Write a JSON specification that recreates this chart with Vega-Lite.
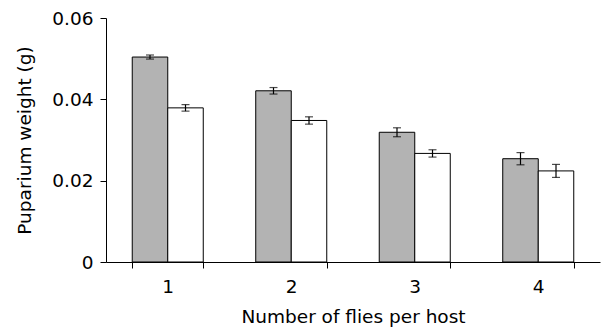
{
  "$schema": "https://vega.github.io/schema/vega-lite/v6.json",
  "width": 494,
  "height": 244,
  "autosize": {"type": "none"},
  "padding": {"left": 106, "top": 18, "right": 5, "bottom": 66},
  "background": "white",
  "config": {
    "view": {"stroke": null},
    "font": "DejaVu Sans",
    "axis": {
      "grid": false,
      "domainColor": "black",
      "tickColor": "black",
      "labelColor": "black",
      "titleColor": "black",
      "labelFont": "DejaVu Sans",
      "titleFont": "DejaVu Sans",
      "labelFontSize": 18.5,
      "titleFontSize": 18.5,
      "titleFontWeight": "normal",
      "tickSize": 6,
      "domainWidth": 1,
      "tickWidth": 1
    }
  },
  "data": {
    "values": [
      {"flies": "1", "group": "A", "value": 0.0504, "lo": 0.0499, "hi": 0.0509},
      {"flies": "1", "group": "B", "value": 0.0379, "lo": 0.0371, "hi": 0.0387},
      {"flies": "2", "group": "A", "value": 0.0421, "lo": 0.0413, "hi": 0.0429},
      {"flies": "2", "group": "B", "value": 0.0348, "lo": 0.0339, "hi": 0.0357},
      {"flies": "3", "group": "A", "value": 0.0319, "lo": 0.0308, "hi": 0.0330},
      {"flies": "3", "group": "B", "value": 0.0267, "lo": 0.0258, "hi": 0.0276},
      {"flies": "4", "group": "A", "value": 0.0254, "lo": 0.0239, "hi": 0.0269},
      {"flies": "4", "group": "B", "value": 0.0224, "lo": 0.0208, "hi": 0.0240}
    ]
  },
  "encoding": {
    "x": {
      "field": "flies",
      "type": "ordinal",
      "scale": {"paddingInner": 0.425, "paddingOuter": 0.2125},
      "axis": {
        "title": "Number of flies per host",
        "labelAngle": 0,
        "tickBand": "extent",
        "labelPadding": 9,
        "titlePadding": 12
      }
    },
    "xOffset": {
      "field": "group",
      "type": "nominal",
      "scale": {"paddingInner": 0, "paddingOuter": 0}
    }
  },
  "layer": [
    {
      "mark": {"type": "bar", "stroke": "black", "strokeWidth": 1},
      "encoding": {
        "y": {
          "field": "value",
          "type": "quantitative",
          "scale": {"domain": [0, 0.06], "nice": false},
          "axis": {
            "title": "Puparium weight (g)",
            "values": [0, 0.02, 0.04, 0.06],
            "labelExpr": "datum.value == 0 ? '0' : format(datum.value, '.2f')",
            "labelPadding": 7,
            "titlePadding": 17
          }
        },
        "fill": {
          "field": "group",
          "type": "nominal",
          "scale": {"domain": ["A", "B"], "range": ["#b3b3b3", "#ffffff"]},
          "legend": null
        }
      }
    },
    {
      "mark": {"type": "rule", "color": "black", "strokeWidth": 1.2},
      "encoding": {
        "y": {"field": "lo", "type": "quantitative"},
        "y2": {"field": "hi"}
      }
    },
    {
      "mark": {"type": "tick", "color": "black", "size": 8, "thickness": 1.2, "orient": "horizontal"},
      "encoding": {
        "y": {"field": "lo", "type": "quantitative"}
      }
    },
    {
      "mark": {"type": "tick", "color": "black", "size": 8, "thickness": 1.2, "orient": "horizontal"},
      "encoding": {
        "y": {"field": "hi", "type": "quantitative"}
      }
    }
  ]
}
